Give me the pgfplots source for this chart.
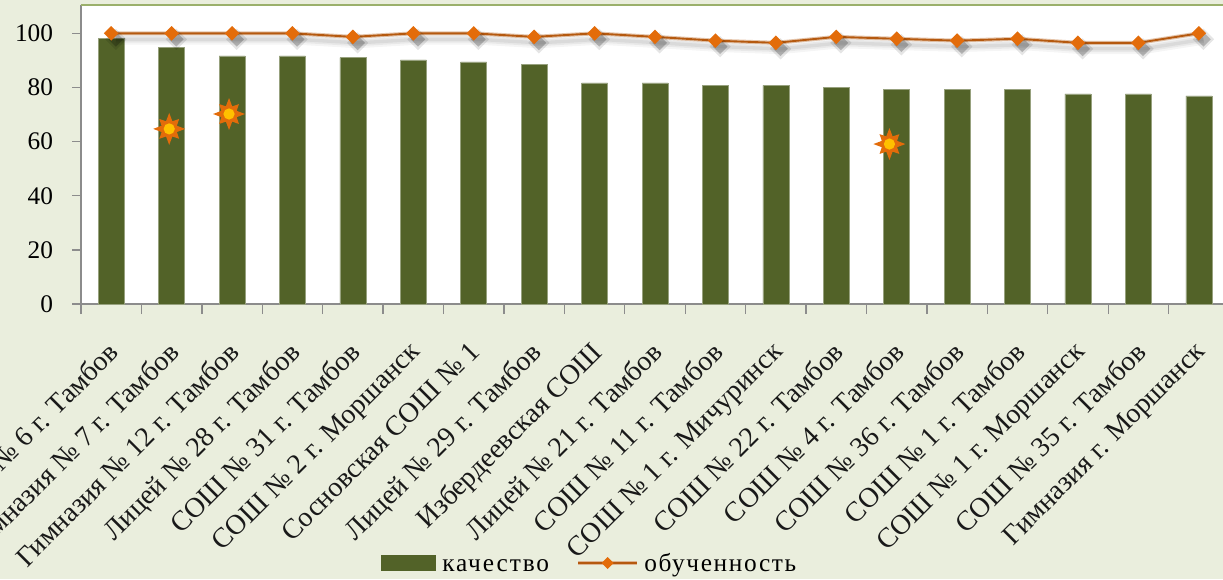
\documentclass[border=0pt]{standalone}
\usepackage{pgfplots}
\pgfplotsset{compat=1.18}
\usepackage{fontspec}
\setmainfont{Liberation Serif}
\definecolor{bg}{HTML}{EAEEDD}
\definecolor{bar}{HTML}{526228}
\definecolor{ln}{HTML}{B5590F}
\definecolor{mk}{HTML}{E36C0A}
\definecolor{yel}{HTML}{FFC000}
\definecolor{topl}{HTML}{9BB06B}
\definecolor{axg}{HTML}{8C8C8C}
\pgfdeclareplotmark{sun}{%
  \pgfpathmoveto{\pgfqpointpolar{0}{12pt}}%
  \pgfpathlineto{\pgfqpointpolar{22.5}{6.2pt}}%
  \pgfpathlineto{\pgfqpointpolar{45}{10.5pt}}%
  \pgfpathlineto{\pgfqpointpolar{67.5}{6.2pt}}%
  \pgfpathlineto{\pgfqpointpolar{90}{12pt}}%
  \pgfpathlineto{\pgfqpointpolar{112.5}{6.2pt}}%
  \pgfpathlineto{\pgfqpointpolar{135}{10.5pt}}%
  \pgfpathlineto{\pgfqpointpolar{157.5}{6.2pt}}%
  \pgfpathlineto{\pgfqpointpolar{180}{12pt}}%
  \pgfpathlineto{\pgfqpointpolar{202.5}{6.2pt}}%
  \pgfpathlineto{\pgfqpointpolar{225}{10.5pt}}%
  \pgfpathlineto{\pgfqpointpolar{247.5}{6.2pt}}%
  \pgfpathlineto{\pgfqpointpolar{270}{12pt}}%
  \pgfpathlineto{\pgfqpointpolar{292.5}{6.2pt}}%
  \pgfpathlineto{\pgfqpointpolar{315}{10.5pt}}%
  \pgfpathlineto{\pgfqpointpolar{337.5}{6.2pt}}%
  \pgfpathclose
  \pgfsetfillcolor{mk}\pgfusepathqfill
  \pgfpathcircle{\pgfpointorigin}{4.2pt}%
  \pgfsetfillcolor{yel}\pgfusepathqfill
}
\pgfdeclareplotmark{dia}{%
  \pgfpathmoveto{\pgfqpoint{\pgfplotmarksize}{0pt}}%
  \pgfpathlineto{\pgfqpoint{0pt}{\pgfplotmarksize}}%
  \pgfpathlineto{\pgfqpoint{-\pgfplotmarksize}{0pt}}%
  \pgfpathlineto{\pgfqpoint{0pt}{-\pgfplotmarksize}}%
  \pgfpathclose
  \pgfusepathqfill
}
\pgfplotstableread{
x kach
0 98
1 94.8
2 91.7
3 91.7
4 91
5 90.2
6 89.5
7 88.5
8 81.7
9 81.7
10 80.8
11 80.8
12 80
13 79.2
14 79.2
15 79.2
16 77.6
17 77.6
18 76.9
}\kach
\pgfplotstableread{
x obuch
0 100
1 100
2 100
3 100
4 98.7
5 100
6 100
7 98.7
8 100
9 98.7
10 97.3
11 96.5
12 98.7
13 98
14 97.3
15 98
16 96.5
17 96.5
18 100
}\obuch
\begin{document}
\begin{tikzpicture}[x=1pt,y=1pt]
\useasboundingbox (0,0) rectangle (917.25,434.25);
\fill[bg] (0,0) rectangle (917.25,434.25);
\clip (0,0) rectangle (917.25,434.25);
\begin{axis}[
  name=main, at={(60.75pt,206.25pt)}, anchor=south west,
  scale only axis, width=861pt, height=224.3pt,
  axis background/.style={fill=white},
  xmin=-0.5, xmax=18.5, ymin=0, ymax=110.5,
  axis x line*=bottom, axis y line*=left,
  axis line style={axg,line width=1.1pt,-},
  xtick={0,...,18},
  xticklabels={Гимназия № 6 г. Тамбов,Гимназия № 7 г. Тамбов,Гимназия № 12 г. Тамбов,Лицей № 28 г. Тамбов,СОШ № 31 г. Тамбов,СОШ № 2 г. Моршанск,Сосновская СОШ № 1,Лицей № 29 г. Тамбов,Избердеевская СОШ,Лицей № 21 г. Тамбов,СОШ № 11 г. Тамбов,СОШ № 1 г. Мичуринск,СОШ № 22 г. Тамбов,СОШ № 4 г. Тамбов,СОШ № 36 г. Тамбов,СОШ № 1 г. Тамбов,СОШ № 1 г. Моршанск,СОШ № 35 г. Тамбов,Гимназия г. Моршанск},
  minor xtick={-0.5,0.5,...,18.5},
  major x tick style={draw=none},
  minor x tick style={axg,line width=1pt},
  minor tick length=7.5pt,
  ytick={0,20,...,100},
  y tick style={axg,line width=1pt},
  major tick length=6.75pt,
  tick align=outside,
  yticklabel style={font=\fontsize{19}{19}\selectfont,text=black,inner sep=0pt,xshift=-14pt},
  /pgf/number format/assume math mode=true,
  xticklabel style={font=\fontsize{21}{21}\selectfont,text=black!90,rotate=45,anchor=north east,inner sep=0pt,yshift=-11.4pt,xshift=-16.9pt},
  clip=false,
]
\addplot[ybar,bar width=19.5pt,fill=bar,draw=bar!60!white,line width=0.4pt,forget plot] table[x=x,y=kach]{\kach};
\addplot[no markers,black,opacity=0.04,line width=8pt,xshift=3.5pt,yshift=-4.5pt,forget plot] table[x=x,y=obuch]{\obuch};
\addplot[no markers,black,opacity=0.05,line width=5pt,xshift=3.5pt,yshift=-4.5pt,forget plot] table[x=x,y=obuch]{\obuch};
\addplot[no markers,black,opacity=0.06,line width=2.5pt,xshift=3.5pt,yshift=-4.5pt,forget plot] table[x=x,y=obuch]{\obuch};
\addplot[only marks,mark=dia,mark size=8pt,draw=none,fill=black,mark options={draw=none,fill=black,opacity=0.10},forget plot,xshift=3.5pt,yshift=-4.5pt] table[x=x,y=obuch]{\obuch};
\addplot[only marks,mark=dia,mark size=5.5pt,draw=none,fill=black,mark options={draw=none,fill=black,opacity=0.22},forget plot,xshift=3.5pt,yshift=-4.5pt] table[x=x,y=obuch]{\obuch};
\addplot[ln,opacity=0.35,line width=3pt,no markers,forget plot] table[x=x,y=obuch]{\obuch};
\addplot[ln,line width=1.4pt,mark=dia,mark size=5.5pt,mark options={fill=mk,draw=none},forget plot] table[x=x,y=obuch]{\obuch};
\addplot[only marks,mark=sun,forget plot] coordinates {(0.96,64.7) (1.95,70.2) (12.88,59.1)};
\draw[topl,line width=2pt] (rel axis cs:0,1) -- (rel axis cs:1,1);
\end{axis}
\fill[bar] (286,6) rectangle (327,18);
\node[anchor=base west,inner sep=0pt,font=\fontsize{19}{19}\selectfont\addfontfeatures{LetterSpace=7.5}] at (331.5,5.5) {качество};
\draw[ln!45!white,line width=3pt] (433.5,12) -- (477.75,12);
\draw[ln,line width=1.4pt] (433.5,12) -- (477.75,12);
\fill[mk] (460.3,12)--(455.8,16.5)--(451.3,12)--(455.8,7.5)--cycle;
\node[anchor=base west,inner sep=0pt,font=\fontsize{19}{19}\selectfont\addfontfeatures{LetterSpace=6.5}] at (483,5.5) {обученность};
\end{tikzpicture}
\end{document}
